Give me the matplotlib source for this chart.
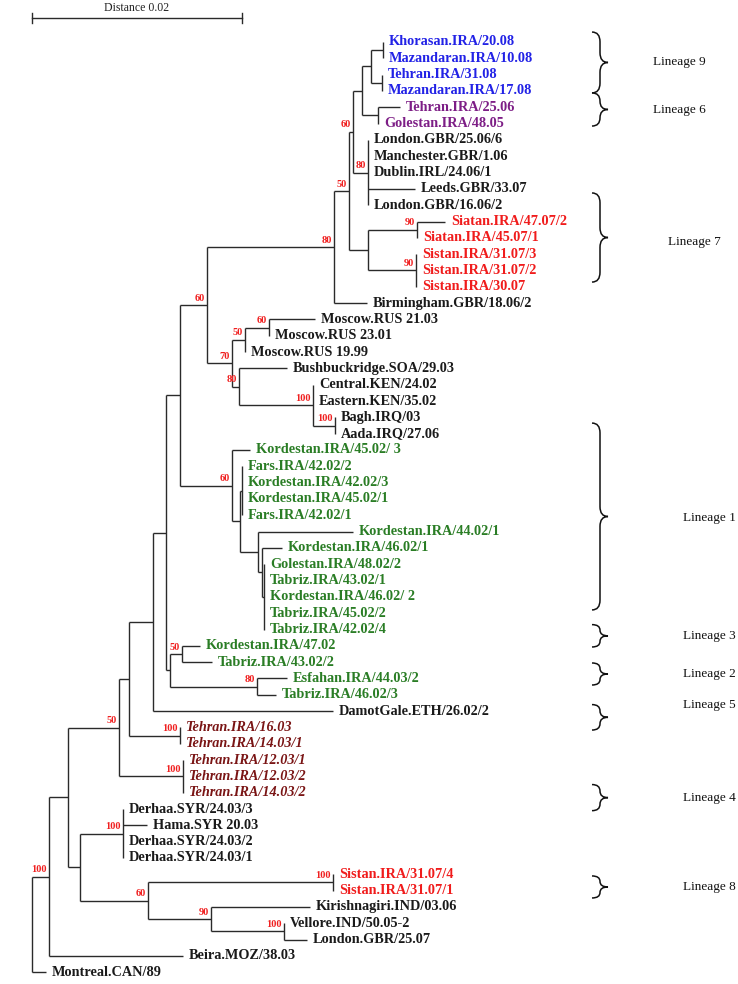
import numpy as np
import matplotlib.pyplot as plt
from matplotlib.path import Path
from matplotlib.patches import PathPatch

# Leaves from top to bottom, with distance from root to the tip
leaf_names = [
    'Khorasan.IRA/20.08', 'Mazandaran.IRA/10.08', 'Tehran.IRA/31.08', 'Mazandaran.IRA/17.08',
    'Tehran.IRA/25.06', 'Golestan.IRA/48.05',
    'London.GBR/25.06/6', 'Manchester.GBR/1.06', 'Dublin.IRL/24.06/1', 'Leeds.GBR/33.07',
    'London.GBR/16.06/2',
    'Siatan.IRA/47.07/2', 'Siatan.IRA/45.07/1', 'Sistan.IRA/31.07/3', 'Sistan.IRA/31.07/2',
    'Sistan.IRA/30.07',
    'Birmingham.GBR/18.06/2',
    'Moscow.RUS 21.03', 'Moscow.RUS 23.01', 'Moscow.RUS 19.99',
    'Bushbuckridge.SOA/29.03', 'Central.KEN/24.02', 'Eastern.KEN/35.02', 'Bagh.IRQ/03',
    'Aada.IRQ/27.06',
    'Kordestan.IRA/45.02/ 3', 'Fars.IRA/42.02/2', 'Kordestan.IRA/42.02/3', 'Kordestan.IRA/45.02/1',
    'Fars.IRA/42.02/1', 'Kordestan.IRA/44.02/1', 'Kordestan.IRA/46.02/1', 'Golestan.IRA/48.02/2',
    'Tabriz.IRA/43.02/1', 'Kordestan.IRA/46.02/ 2', 'Tabriz.IRA/45.02/2', 'Tabriz.IRA/42.02/4',
    'Kordestan.IRA/47.02', 'Tabriz.IRA/43.02/2', 'Esfahan.IRA/44.03/2', 'Tabriz.IRA/46.02/3',
    'DamotGale.ETH/26.02/2',
    'Tehran.IRA/16.03', 'Tehran.IRA/14.03/1', 'Tehran.IRA/12.03/1', 'Tehran.IRA/12.03/2',
    'Tehran.IRA/14.03/2',
    'Derhaa.SYR/24.03/3', 'Hama.SYR 20.03', 'Derhaa.SYR/24.03/2', 'Derhaa.SYR/24.03/1',
    'Sistan.IRA/31.07/4', 'Sistan.IRA/31.07/1', 'Kirishnagiri.IND/03.06', 'Vellore.IND/50.05-2',
    'London.GBR/25.07', 'Beira.MOZ/38.03', 'Montreal.CAN/89',
]
leaf_depth = [
    0.03343, 0.03343, 0.03333, 0.03333,
    0.03505, 0.03295,
    0.03200, 0.03200, 0.03200, 0.03648, 0.03200,
    0.03933, 0.03667, 0.03657, 0.03657, 0.03657,
    0.03190,
    0.02695, 0.02257, 0.02029,
    0.02429, 0.02676, 0.02676, 0.02886, 0.02886,
    0.02076, 0.02000, 0.02000, 0.02000, 0.02000, 0.03057, 0.02381, 0.02210,
    0.02210, 0.02210, 0.02210, 0.02210,
    0.01600, 0.01714, 0.02429, 0.02324,
    0.02867,
    0.01410, 0.01410, 0.01438, 0.01438, 0.01438,
    0.00867, 0.01095, 0.00867, 0.00867,
    0.02867, 0.02867, 0.02648, 0.02400, 0.02619, 0.01438, 0.00133,
]
leaf_group = (['L9'] * 4 + ['L6'] * 2 + ['other'] * 5 + ['L7'] * 5 + ['other'] * 9
              + ['L1'] * 16 + ['other'] + ['L45'] * 5 + ['other'] * 4 + ['L7'] * 2
              + ['other'] * 5)

# Internal nodes: name, distance from root, bootstrap value, children
node_names = ['k', 't', 'L9', 'L6', 'd', 'uk', 'c', 'siat', 'sist', 's7', 'b', 'top',
              'm13', 'm11', 'iq', 'ke', 'af', 'n10', 'n9',
              'fars', 'n20', 'n19', 'n18', 'n16', 'L1', 'n8',
              'k47', 'esf', 'n7', 'n6', 'n5', 't16', 'n4', 't12', 'n3',
              'syr', 'sis8', 'vel', 'n90', 'n60', 'nsyr', 'n2', 'n1', 'root']
node_depth = [0.03343, 0.03333, 0.03229, 0.03295, 0.03143, 0.03200, 0.03057, 0.03667,
              0.03657, 0.03200, 0.03019, 0.02876,
              0.02257, 0.02029, 0.02886, 0.02676, 0.01971, 0.01905, 0.01667,
              0.02000, 0.02210, 0.02190, 0.02152, 0.01981, 0.01905, 0.01410,
              0.01429, 0.02143, 0.01314, 0.01276, 0.01152, 0.01410, 0.00924, 0.01438,
              0.00829,
              0.00867, 0.02867, 0.02400, 0.01705, 0.01105, 0.00457, 0.00343, 0.00162, 0.0]
node_support = [None, None, None, None, None, 80, 60, 90, 90, None, 50, 80,
                60, 50, 100, 100, 80, 70, 60,
                None, None, None, None, None, 60, None,
                50, 80, None, None, None, 100, None, 100, 50,
                100, 100, 100, 90, 60, None, None, 100, None]
node_children = [[0, 1], [2, 3], ['k', 't'], [4, 5], ['L9', 'L6'], [6, 7, 8, 9, 10],
                 ['d', 'uk'], [11, 12], [13, 14, 15], ['siat', 'sist'], ['c', 's7'],
                 ['b', 16],
                 [17, 18], ['m13', 19], [23, 24], [21, 22, 'iq'], [20, 'ke'],
                 ['m11', 'af'], ['top', 'n10'],
                 [26, 27, 28, 29], [32, 33, 34, 35, 36], [31, 'n20'], [30, 'n19'],
                 ['fars', 'n18'], [25, 'n16'], ['n9', 'L1'],
                 [37, 38], [39, 40], ['k47', 'esf'], ['n8', 'n7'], ['n6', 41],
                 [42, 43], ['n5', 't16'], [44, 45, 46], ['n4', 't12'],
                 [47, 48, 49, 50], [51, 52], [54, 55], [53, 'vel'], ['sis8', 'n90'],
                 ['syr', 'n60'], ['n3', 'nsyr'], ['n2', 56], ['n1', 57]]

# Lineage brackets (in leaf rows)
lineage_labels = ['Lineage 9', 'Lineage 6', 'Lineage 7', 'Lineage 1', 'Lineage 3',
                  'Lineage 2', 'Lineage 5', 'Lineage 4', 'Lineage 8']
lineage_top = [-0.61, 3.12, 9.25, 23.35, 35.7, 38.05, 40.6, 45.5, 51.1]
lineage_bottom = [3.12, 5.15, 14.71, 34.8, 37.07, 39.4, 42.16, 47.1, 52.45]
lineage_text_row = [1.23, 4.17, 12.25, 29.17, 36.4, 38.7, 40.6, 46.3, 51.8]

group_color = {'L9': '#2222e6', 'L6': '#7d1e86', 'other': '#1a1a1a', 'L7': '#f01c1c',
               'L1': '#2a7d25', 'L45': '#7a1515'}

serif = ['Liberation Serif', 'DejaVu Serif']

fig = plt.figure(figsize=(7.38, 9.84), dpi=100)
ax = fig.add_axes([0, 0, 1, 1])
px = 0.02 / 210
ax.set_xlim(-32 * px, (738 - 32) * px)
ax.set_ylim((984 - 42) / 16.32, -42 / 16.32)
ax.axis('off')

pos_x = {i: d for i, d in enumerate(leaf_depth)}
pos_y = {i: float(i) for i in range(len(leaf_names))}
for n, d in zip(node_names, node_depth):
    pos_x[n] = d
children = dict(zip(node_names, node_children))


def node_y(n):
    if n in pos_y:
        return pos_y[n]
    ys = [node_y(c) for c in children[n]]
    pos_y[n] = (ys[0] + ys[-1]) / 2
    return pos_y[n]


node_y('root')
lc = '#2a2a2a'
lw = 1.0
for n, s in zip(node_names, node_support):
    ch = children[n]
    ys = [pos_y[c] for c in ch]
    ax.plot([pos_x[n], pos_x[n]], [min(ys), max(ys)], color=lc, lw=lw, solid_capstyle='butt')
    for c in ch:
        ax.plot([pos_x[n], pos_x[c]], [pos_y[c], pos_y[c]], color=lc, lw=lw,
                solid_capstyle='butt')
    if s is not None:
        ax.text(pos_x[n] - 2 * px, pos_y[n] - 0.42, str(s), ha='right', va='center',
                color='#f02020', fontsize=7.5, fontweight='bold', family=serif)

for i, name in enumerate(leaf_names):
    g = leaf_group[i]
    ax.text(leaf_depth[i] + 6 * px, i, name, ha='left', va='center',
            color=group_color[g], fontsize=10.3, fontweight='bold', family=serif,
            fontstyle='italic' if g == 'L45' else 'normal')

# scale bar
sy = -1.47
ax.plot([0, 0.02], [sy, sy], color=lc, lw=1)
ax.plot([0, 0], [sy - 0.28, sy + 0.28], color=lc, lw=1)
ax.plot([0.02, 0.02], [sy - 0.28, sy + 0.28], color=lc, lw=1)
ax.text(0.01, -2.1, 'Distance 0.02', ha='center', va='center', fontsize=8.5,
        family=serif, color='#222222')


def brace(x, y0, y1, w):
    ym = (y0 + y1) / 2
    h = w / 2
    r = min(0.6, (y1 - y0) / 4)
    verts = [(x, y0), (x + h, y0), (x + h, y0 + r), (x + h, ym - r),
             (x + h, ym), (x + w, ym), (x + h, ym), (x + h, ym + r),
             (x + h, y1 - r), (x + h, y1), (x, y1)]
    codes = [Path.MOVETO, Path.CURVE3, Path.CURVE3, Path.LINETO,
             Path.CURVE3, Path.CURVE3, Path.CURVE3, Path.CURVE3,
             Path.LINETO, Path.CURVE3, Path.CURVE3]
    ax.add_patch(PathPatch(Path(verts, codes), fill=False, color='#111111', lw=1.1))


for k, lab in enumerate(lineage_labels):
    brace(560 * px, lineage_top[k], lineage_bottom[k], 16 * px)
    tx = 621 if k < 2 else (636 if k == 2 else 651)
    ax.text(tx * px, lineage_text_row[k], lab, ha='left', va='center', fontsize=9.5,
            family=serif, color='#111111')

plt.savefig('out.png', dpi=100)
